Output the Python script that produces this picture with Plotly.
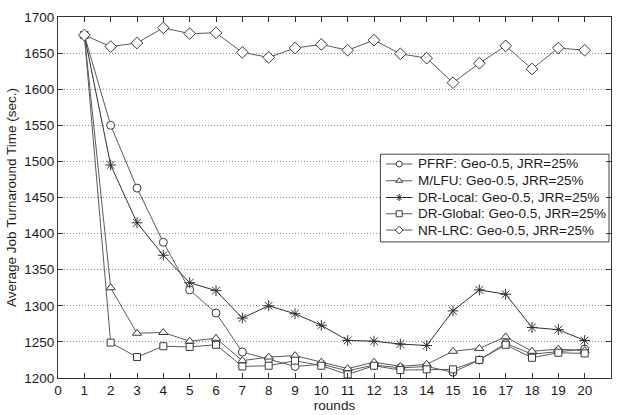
import plotly.graph_objects as go

rounds = list(range(1, 21))

pfrf = [1675, 1550, 1463, 1388, 1322, 1290, 1236, 1226, 1216, 1219,
        1210, 1218, 1214, 1216, 1208, 1225, 1248, 1233, 1237, 1240]
mlfu = [1675, 1325, 1262, 1263, 1251, 1255, 1224, 1229, 1231, 1222,
        1213, 1222, 1216, 1219, 1237, 1241, 1257, 1237, 1240, 1238]
dr_local = [1675, 1495, 1415, 1370, 1332, 1321, 1283, 1300, 1289, 1273,
            1252, 1251, 1247, 1245, 1293, 1322, 1316, 1270, 1267, 1252]
dr_global = [1675, 1249, 1229, 1244, 1243, 1246, 1216, 1217, 1224, 1217,
             1205, 1217, 1211, 1212, 1212, 1225, 1246, 1228, 1235, 1234]
nr_lrc = [1675, 1659, 1664, 1685, 1677, 1678, 1651, 1644, 1657, 1662,
          1654, 1668, 1649, 1643, 1609, 1636, 1660, 1628, 1657, 1654]

names = ["PFRF: Geo-0.5, JRR=25%", "M/LFU: Geo-0.5, JRR=25%",
         "DR-Local: Geo-0.5, JRR=25%", "DR-Global: Geo-0.5, JRR=25%",
         "NR-LRC: Geo-0.5, JRR=25%"]
series = [pfrf, mlfu, dr_local, dr_global, nr_lrc]
symbols = ["circle", "triangle-up", "asterisk-open", "square", "diamond"]
sizes = [8, 8, 9, 7, 9]
line_colors = ["#5a5a5a", "#5a5a5a", "#2e2e2e", "#5a5a5a", "#5a5a5a"]
fill_colors = ["white", "white", "#2e2e2e", "white", "white"]

FAMILY = "Liberation Sans, Arial, sans-serif"
TEXT = "#1a1a1a"

fig = go.Figure()
for name, ys, sym, sz, lc, fc in zip(names, series, symbols, sizes,
                                     line_colors, fill_colors):
    fig.add_trace(go.Scatter(
        x=rounds, y=ys, name=name, mode="lines+markers", showlegend=False,
        line=dict(color=lc, width=1),
        marker=dict(symbol=sym, size=sz, color=fc,
                    line=dict(color="#3a3a3a", width=1)),
    ))

# Boxed key drawn on an overlay axis spanning the plot area in [0, 1] units
box_x0, box_x1, box_y0, box_y1 = 0.583, 0.9964, 0.377, 0.620
fig.add_trace(go.Scatter(
    x=[box_x0, box_x1, box_x1, box_x0, box_x0],
    y=[box_y0, box_y0, box_y1, box_y1, box_y0],
    mode="lines", fill="toself", fillcolor="white",
    line=dict(color="#444444", width=1),
    xaxis="x2", yaxis="y2", showlegend=False, hoverinfo="skip",
))
row_y = [0.5929, 0.5464, 0.5000, 0.4549, 0.4098]
key_x0, key_xm, key_x1, text_x = 0.593, 0.617, 0.641, 0.648
for name, ry, sym, lc, fc in zip(names, row_y, symbols, line_colors, fill_colors):
    fig.add_trace(go.Scatter(
        x=[key_x0, key_x1], y=[ry, ry], mode="lines",
        line=dict(color=lc, width=1),
        xaxis="x2", yaxis="y2", showlegend=False, hoverinfo="skip",
    ))
    fig.add_trace(go.Scatter(
        x=[key_xm], y=[ry], mode="markers",
        marker=dict(symbol=sym, size=6, color=fc,
                    line=dict(color="#3a3a3a", width=1)),
        xaxis="x2", yaxis="y2", showlegend=False, hoverinfo="skip",
    ))
    fig.add_annotation(
        x=text_x, y=ry, xref="paper", yref="paper",
        xanchor="left", yanchor="middle", showarrow=False, text=name,
        font=dict(family=FAMILY, size=13.5, color=TEXT),
    )

font = dict(family=FAMILY, size=13.5, color=TEXT)

fig.update_layout(
    width=617, height=415,
    margin=dict(l=58, r=5, t=17, b=32),
    paper_bgcolor="white", plot_bgcolor="white",
    font=font,
    xaxis=dict(
        range=[0, 21], tickmode="linear", tick0=0, dtick=1,
        ticks="inside", ticklen=5, tickcolor="#333333",
        showline=True, linecolor="#333333", linewidth=1, mirror="ticks",
        showgrid=False, zeroline=False,
        title=dict(text="rounds", standoff=2, font=font),
    ),
    yaxis=dict(
        range=[1200, 1700], tickmode="linear", tick0=1200, dtick=50,
        ticks="inside", ticklen=5, tickcolor="#333333",
        showline=True, linecolor="#333333", linewidth=1, mirror="ticks",
        showgrid=True, gridcolor="#8c8c8c", griddash="1px,2px", gridwidth=1,
        zeroline=False,
        title=dict(text="Average Job Turnaround Time (sec.)", standoff=4,
                   font=font),
    ),
    xaxis2=dict(overlaying="x", range=[0, 1], visible=False, fixedrange=True),
    yaxis2=dict(overlaying="y", range=[0, 1], visible=False, fixedrange=True),
)

fig.write_html("out.html")
